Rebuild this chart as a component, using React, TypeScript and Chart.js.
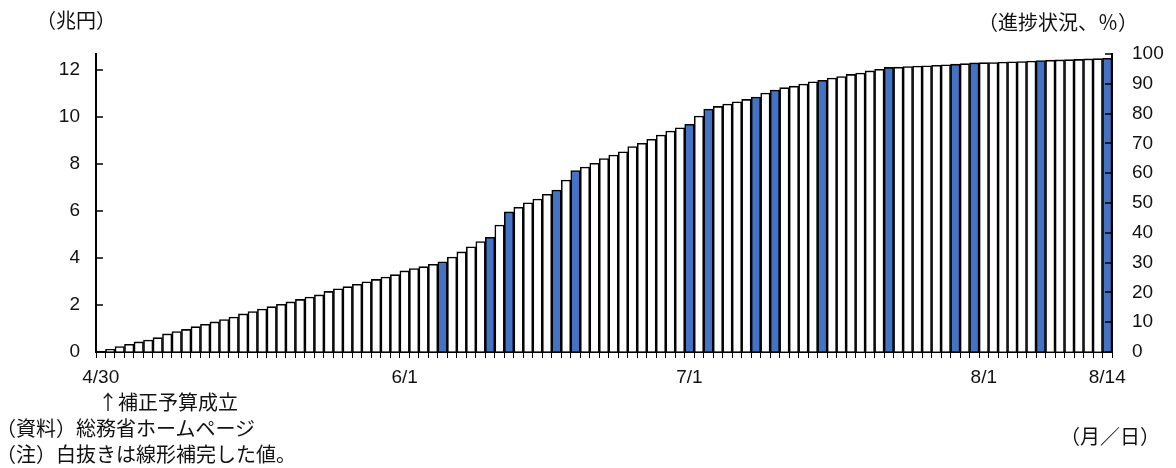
import React, { useEffect, useRef } from "react";
import { Chart, registerables } from "chart.js";

Chart.register(...registerables);

// ---- data ----
// Month lengths for building the daily category axis (4/30 .. 8/14)
const START_DAY = { month: 4, day: 30 };
const MONTH_DAYS: Record<number, number> = { 4: 30, 5: 31, 6: 30, 7: 31, 8: 31 };
const END_DAY = { month: 8, day: 14 };

// Cumulative amount (兆円), one value per day
const cumulative: number[] = [
  0.0, 0.11, 0.23, 0.33, 0.43, 0.51, 0.61, 0.77, 0.87, 0.96,
  1.08, 1.18, 1.28, 1.38, 1.49, 1.62, 1.72, 1.83, 1.93, 2.03,
  2.13, 2.24, 2.34, 2.43, 2.58, 2.69, 2.78, 2.88, 2.99, 3.09,
  3.19, 3.29, 3.45, 3.55, 3.63, 3.73, 3.84, 4.04, 4.26, 4.48,
  4.70, 4.88, 5.40, 5.96, 6.16, 6.35, 6.51, 6.71, 6.89, 7.32,
  7.72, 7.87, 8.03, 8.23, 8.38, 8.52, 8.74, 8.88, 9.05, 9.23,
  9.40, 9.54, 9.69, 10.04, 10.34, 10.45, 10.55, 10.65, 10.75, 10.85,
  11.02, 11.15, 11.25, 11.31, 11.40, 11.50, 11.56, 11.66, 11.72, 11.81,
  11.87, 11.96, 12.03, 12.11, 12.12, 12.15, 12.17, 12.18, 12.20, 12.22,
  12.25, 12.27, 12.30, 12.31, 12.32, 12.34, 12.35, 12.36, 12.38, 12.40,
  12.42, 12.43, 12.44, 12.45, 12.47, 12.48, 12.50,
];

// Days with published (actual) figures – drawn in blue
const publishedDays: string[] = [
  "6/5", "6/10", "6/12", "6/17", "6/19", "7/1", "7/3", "7/8",
  "7/10", "7/15", "7/22", "7/29", "7/31", "8/7", "8/14",
];

// Tick labels shown on the x axis
const shownXLabels: string[] = ["4/30", "6/1", "7/1", "8/1", "8/14"];

// Left axis ticks (兆円) and right axis (進捗状況, %)
const leftTicks: number[] = [0, 2, 4, 6, 8, 10, 12];
const leftMax = 12.68;
const rightTicks: number[] = [0, 10, 20, 30, 40, 50, 60, 70, 80, 90, 100];

function buildDays(): string[] {
  const out: string[] = [];
  let m = START_DAY.month;
  let d = START_DAY.day;
  while (true) {
    out.push(`${m}/${d}`);
    if (m === END_DAY.month && d === END_DAY.day) break;
    d += 1;
    if (d > MONTH_DAYS[m]) {
      d = 1;
      m += 1;
    }
  }
  return out;
}
const days = buildDays();

const BLUE = "#4472C4";
const NUM_FONT = '"Liberation Sans", Arial, sans-serif';
const JP_FONT = '"Noto Sans CJK JP", "Noto Sans", sans-serif';

const innerTicks = {
  id: "innerTicks",
  afterDatasetsDraw(chart: any) {
    const { ctx, chartArea } = chart;
    const y = chart.scales.y;
    const y2 = chart.scales.y2;
    ctx.save();
    ctx.strokeStyle = "#000";
    ctx.lineWidth = 1.5;
    leftTicks.forEach((v) => {
      const p = Math.round(y.getPixelForValue(v));
      ctx.beginPath();
      ctx.moveTo(chartArea.left, p);
      ctx.lineTo(chartArea.left + 7, p);
      ctx.stroke();
    });
    rightTicks.forEach((v) => {
      const p = Math.round(y2.getPixelForValue(v));
      ctx.beginPath();
      ctx.moveTo(chartArea.right - 7, p);
      ctx.lineTo(chartArea.right, p);
      ctx.stroke();
    });
    ctx.restore();
  },
};

export default function App() {
  const ref = useRef<HTMLCanvasElement | null>(null);

  useEffect(() => {
    if (!ref.current) return;
    const colors = days.map((d) => (publishedDays.includes(d) ? BLUE : "#FFFFFF"));
    const chart = new Chart(ref.current, {
      type: "bar",
      data: {
        labels: days,
        datasets: [
          {
            data: cumulative,
            backgroundColor: colors,
            borderColor: "#000",
            borderWidth: 1.6,
            barPercentage: 1,
            categoryPercentage: 1,
            yAxisID: "y",
          },
        ],
      },
      options: {
        animation: false,
        responsive: false,
        devicePixelRatio: 1,
        layout: { padding: { top: 54, left: 0, right: 0, bottom: 0 } },
        plugins: { legend: { display: false }, tooltip: { enabled: false } },
        scales: {
          x: {
            type: "category",
            offset: true,
            grid: {
              display: true,
              offset: true,
              drawOnChartArea: false,
              drawTicks: true,
              tickLength: 6,
              color: "#000",
              lineWidth: 1,
            },
            border: { display: true, color: "#000", width: 2 },
            ticks: {
              autoSkip: false,
              maxRotation: 0,
              minRotation: 0,
              padding: 8,
              color: "#111",
              font: { family: NUM_FONT, size: 19 },
              callback: (_v: any, i: number) => (shownXLabels.includes(days[i]) ? days[i] : ""),
            },
            afterFit: (s: any) => {
              s.height = 116;
            },
          },
          y: {
            position: "left",
            min: 0,
            max: leftMax,
            afterBuildTicks: (s: any) => {
              s.ticks = leftTicks.map((v) => ({ value: v }));
            },
            grid: { drawOnChartArea: false, drawTicks: false },
            border: { display: true, color: "#000", width: 2 },
            ticks: {
              padding: 16,
              color: "#111",
              font: { family: NUM_FONT, size: 19 },
            },
            afterFit: (s: any) => {
              s.width = 96;
            },
          },
          y2: {
            position: "right",
            display: true,
            min: 0,
            max: 100,
            afterBuildTicks: (s: any) => {
              s.ticks = rightTicks.map((v) => ({ value: v }));
            },
            grid: { drawOnChartArea: false, drawTicks: false },
            border: { display: true, color: "#000", width: 2 },
            ticks: {
              padding: 20,
              color: "#111",
              font: { family: NUM_FONT, size: 19 },
            },
            afterFit: (s: any) => {
              s.width = 64;
            },
          },
        },
      },
      plugins: [innerTicks],
    } as any);
    return () => chart.destroy();
  }, []);

  const txt = (text: string, left: number, cy: number, size = 20): React.ReactElement => (
    <div
      style={{
        position: "absolute",
        left,
        top: cy - size / 2,
        fontSize: size,
        lineHeight: `${size}px`,
        fontFamily: JP_FONT,
        color: "#111",
        whiteSpace: "nowrap",
      }}
    >
      {text}
    </div>
  );

  return (
    <div
      style={{
        position: "fixed",
        left: 0,
        top: 0,
        width: 1176,
        height: 468,
        background: "#fff",
        overflow: "hidden",
      }}
    >
      <canvas ref={ref} width={1176} height={468} style={{ position: "absolute", left: 0, top: 0 }} />
      {txt("（兆円）", 36, 20, 20)}
      {txt("（進捗状況、％）", 978, 22, 20)}
      {txt("（月／日）", 1060, 436, 20)}
      {txt("↑補正予算成立", 98, 402, 20)}
      {txt("（資料）総務省ホームページ", -4, 428, 20)}
      {txt("（注）白抜きは線形補完した値。", -4, 454, 20)}
    </div>
  );
}
